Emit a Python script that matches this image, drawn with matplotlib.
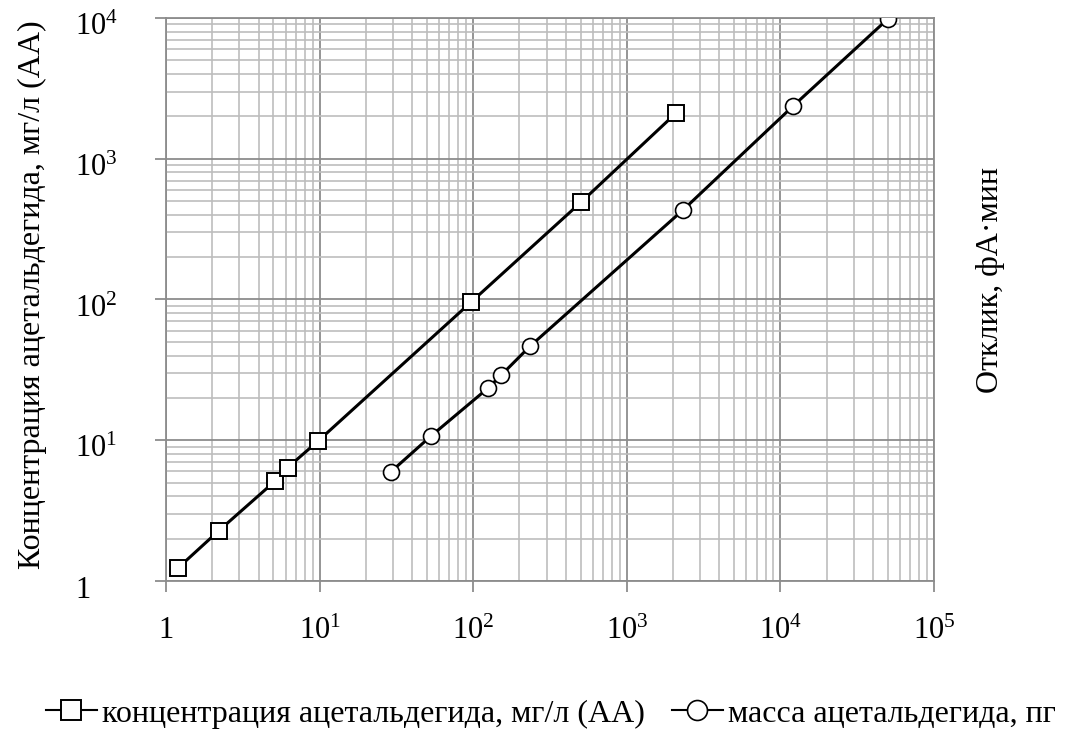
import numpy as np
import matplotlib
matplotlib.use("Agg")
import matplotlib.pyplot as plt
import matplotlib.transforms as mtransforms
from matplotlib.ticker import LogLocator, FixedLocator, FuncFormatter, NullFormatter

plt.rcParams['font.family'] = ['Liberation Serif', 'DejaVu Serif']
plt.rcParams['mathtext.fontset'] = 'custom'
plt.rcParams['mathtext.rm'] = 'Liberation Serif'
plt.rcParams['mathtext.it'] = 'Liberation Serif:italic'

# концентрация ацетальдегида, мг/л (АА)
conc_x = [1.2, 2.2, 5.1, 6.2, 9.8, 97, 505, 2090]
conc_y = [1.24, 2.27, 5.1, 6.4, 9.9, 96, 493, 2110]

# масса ацетальдегида, пг
mass_x = [29, 53, 125, 152, 234, 2320, 12100, 50000]
mass_y = [5.95, 10.7, 23.5, 29, 46.5, 432, 2370, 9840]

x_decades = [1, 10, 100, 1000, 10000, 100000]
y_decades = [1, 10, 100, 1000, 10000]

label_conc = "концентрация ацетальдегида, мг/л (АА)"
label_mass = "масса ацетальдегида, пг"

fig = plt.figure(figsize=(10.67, 7.31), dpi=100)
ax = fig.add_axes([0.1556, 0.2052, 0.7198, 0.7702])

ax.plot(conc_x, conc_y, color='black', lw=2.2, marker='s', ms=11,
        mfc='white', mec='black', mew=1.4, label=label_conc, zorder=3)
ax.plot(mass_x, mass_y, color='black', lw=2.2, marker='o', ms=11.5,
        mfc='white', mec='black', mew=1.2, label=label_mass, zorder=3)

ax.set_xscale('log')
ax.set_yscale('log')
ax.set_xlim(1, 1e5)
ax.set_ylim(1, 1e4)


def decade_label(v, pos):
    n = int(round(np.log10(v)))
    if n == 0:
        return "1"
    return r"$\mathregular{10^{%d}}$" % n


for axis, decs in ((ax.xaxis, x_decades), (ax.yaxis, y_decades)):
    axis.set_major_locator(FixedLocator(decs))
    axis.set_major_formatter(FuncFormatter(decade_label))
    axis.set_minor_locator(LogLocator(base=10, subs=range(2, 10), numticks=20))
    axis.set_minor_formatter(NullFormatter())

ax.grid(True, which='major', color='#8c8c8c', lw=1.3)
ax.grid(True, which='minor', color='#bdbdbd', lw=1.2)
ax.set_axisbelow(True)

for s in ax.spines.values():
    s.set_color('#8c8c8c')
    s.set_linewidth(1.3)

ax.tick_params(which='major', length=8, width=1.3, color='#8c8c8c',
               labelsize=22, direction='out')
ax.tick_params(axis='x', which='major', pad=17.5)
# y labels are left-aligned in one column
ax.tick_params(axis='y', which='major', pad=57.6)
ax.tick_params(which='minor', length=0)

shift_down = mtransforms.ScaledTranslation(0, -0.06, fig.dpi_scale_trans)
for lab in ax.get_yticklabels():
    lab.set_horizontalalignment('left')
    lab.set_transform(lab.get_transform() + shift_down)

ax.set_ylabel("Концентрация ацетальдегида, мг/л (АА)", fontsize=23, labelpad=20)
ax.yaxis.label.set_y(0.509)
fig.text(0.928, 0.617, "Отклик, фА·мин", rotation=90, fontsize=23,
         ha='center', va='center')

leg = fig.legend(loc='lower center', bbox_to_anchor=(0.516, -0.036), ncol=2,
                 frameon=False, fontsize=23, handlelength=1.6, handletextpad=0.15,
                 columnspacing=0.85, markerscale=1.25)
for ln in leg.get_lines():
    ln.set_linewidth(1.5)

fig.savefig("out.png", dpi=100)
